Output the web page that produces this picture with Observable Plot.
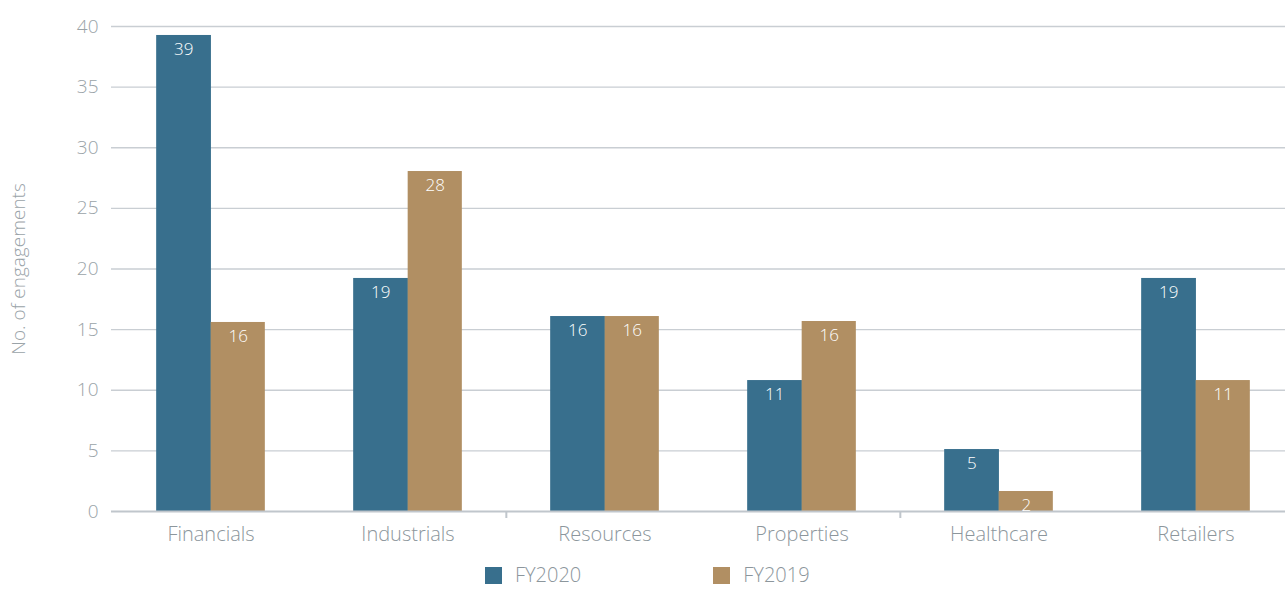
<!DOCTYPE html>
<html>
<head>
<meta charset="utf-8">
<script src="https://cdn.jsdelivr.net/npm/d3@7"></script>
<script src="https://cdn.jsdelivr.net/npm/@observablehq/plot@0.6"></script>
<style>
  html, body { margin: 0; padding: 0; background: #fff; overflow: hidden; }
  #wrap { position: relative; width: 1285px; height: 589px; overflow: hidden; }
  #chart svg { max-width: none !important; }
  #legend { position: absolute; top: 565px; left: 485px; display: flex; align-items: center; line-height: 20px; height: 20px;
    font-family: "Open Sans", Lato, sans-serif; font-weight: 300; font-size: 20px; color: #8c969c; }
  .item { display: flex; align-items: center; height: 20px; }
  .sw { width: 17px; height: 17px; display: inline-block; margin-right: 13px; flex: none; }
</style>
</head>
<body>
<div id="wrap"><div id="chart"></div><div id="legend"></div></div>
<script>
const categories = ["Financials", "Industrials", "Resources", "Properties", "Healthcare", "Retailers"];
const series = ["FY2020", "FY2019"];
const fy2020 = [39.26, 19.22, 16.08, 10.8, 5.11, 19.22];
const fy2019 = [15.59, 28.04, 16.08, 15.67, 1.65, 10.8];
const labels2020 = [39, 19, 16, 11, 5, 19];
const labels2019 = [16, 28, 16, 16, 2, 11];
const yTicks = [0, 5, 10, 15, 20, 25, 30, 35, 40];
const tickCategories = ["Resources", "Healthcare"];
const colors = ["#386f8d", "#b18f63"];

const d20 = categories.map((c, i) => ({category: c, value: fy2020[i], label: labels2020[i]}));
const d19 = categories.map((c, i) => ({category: c, value: fy2019[i], label: labels2019[i]}));

const W = 1295, ML = 111, MR = 0;
const band = (W - ML - MR) / categories.length;
const barW = 54.5;
const half = band / 2;
const font = "'Open Sans', Lato, sans-serif";

const chart = Plot.plot({
  width: W,
  height: 555,
  marginLeft: ML,
  marginRight: MR,
  marginTop: 26,
  marginBottom: 44,
  style: {fontFamily: font, fontWeight: 300, fontSize: "19px", color: "#8c969c", background: "#fff", maxWidth: "none"},
  x: {domain: categories, padding: 0, label: null},
  y: {domain: [0, 40], label: null},
  marks: [
    Plot.gridY(yTicks.filter(t => t > 0), {stroke: "#c9ced3", strokeOpacity: 1, strokeWidth: 1.3}),
    Plot.barY(d20, {x: "category", y: "value", fill: colors[0], insetLeft: half - barW, insetRight: half - 0.6}),
    Plot.barY(d19, {x: "category", y: "value", fill: colors[1], insetLeft: half, insetRight: half - barW}),
    Plot.ruleY([0], {stroke: "#c0c6cc", strokeWidth: 2}),
    Plot.ruleX(tickCategories, {x: d => d, y1: 0, y2: 0, dx: -half, insetBottom: -7, stroke: "#c0c6cc", strokeWidth: 2}),
    Plot.text(d20, {x: "category", y: "value", text: "label", dx: -barW / 2, dy: 14, fill: "#fff", fontSize: 17, fontFamily: font, fontWeight: 300}),
    Plot.text(d19, {x: "category", y: "value", text: "label", dx: barW / 2, dy: 14, fill: "#fff", fontSize: 17, fontFamily: font, fontWeight: 300}),
    Plot.axisY({ticks: yTicks, tickSize: 0, tickPadding: 13, label: null, fontSize: 19, fill: "#9aa3a8"}),
    Plot.axisX({tickSize: 0, tickPadding: 15, label: null, fontSize: 20, fill: "#8c969c"}),
    Plot.text(["No. of engagements"], {frameAnchor: "left", textAnchor: "middle", rotate: -90, dx: -93, fontSize: 19, fill: "#9aa3a8"})
  ]
});
document.getElementById("chart").appendChild(chart);

const legend = document.getElementById("legend");
series.forEach((s, i) => {
  const it = document.createElement("div");
  it.className = "item";
  it.style.marginRight = i === 0 ? "132px" : "0";
  it.innerHTML = `<span class="sw" style="background:${colors[i]}"></span><span>${s}</span>`;
  legend.appendChild(it);
});
</script>
</body>
</html>
